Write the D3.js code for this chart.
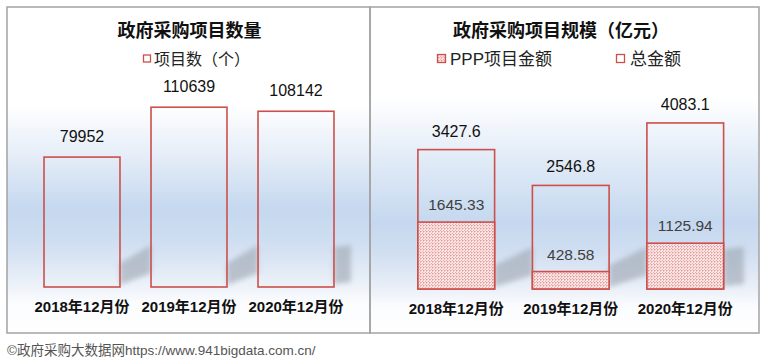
<!DOCTYPE html>
<html><head><meta charset="utf-8">
<script src="https://cdn.jsdelivr.net/npm/d3@7"></script>
<style>
html,body{margin:0;padding:0;background:#fff;}
svg{display:block;font-family:"Liberation Sans",Arial,"Noto Sans CJK SC",sans-serif;}
</style></head>
<body>
<svg id="chart" width="768" height="358"></svg>
<script>
// ---- data ----
const categories = ["2018年12月份", "2019年12月份", "2020年12月份"];
const countValues = [79952, 110639, 108142];
const totalValues = [3427.6, 2546.8, 4083.1];
const pppValues = [1645.33, 428.58, 1125.94];
const countLabels = ["79952", "110639", "108142"];
const totalLabels = ["3427.6", "2546.8", "4083.1"];
const pppLabels = ["1645.33", "428.58", "1125.94"];
const leftTitle = "政府采购项目数量";
const rightTitle = "政府采购项目规模（亿元）";
const leftLegend = ["项目数（个）"];
const rightLegend = ["PPP项目金额", "总金额"];
const footer = "©政府采购大数据网https://www.941bigdata.com.cn/";

const svg = d3.select("#chart");
const RED = "#cc4f4c";
const defs = svg.append("defs");

function makeGrad(id, stops) {
  const g = defs.append("linearGradient").attr("id", id)
    .attr("gradientUnits", "userSpaceOnUse").attr("x1", 0).attr("x2", 0).attr("y1", 7).attr("y2", 333);
  stops.forEach(s => g.append("stop").attr("offset", s[0]).attr("stop-color", s[1]));
}
makeGrad("bgL", [[0, "#ffffff"], [0.3, "#ffffff"], [0.45, "#e6eef8"], [0.62, "#c5d8ef"], [0.72, "#cfdef1"], [0.82, "#e4ecf6"], [0.91, "#fbfcfe"], [1, "#ffffff"]]);
makeGrad("bgR", [[0, "#ffffff"], [0.28, "#ffffff"], [0.45, "#e4edf8"], [0.66, "#c5d8ef"], [0.75, "#d0def1"], [0.85, "#e6edf6"], [0.92, "#fbfcfe"], [1, "#ffffff"]]);

// fine dotted pattern
const pat = defs.append("pattern").attr("id", "dots").attr("patternUnits", "userSpaceOnUse")
  .attr("width", 3).attr("height", 3);
pat.append("rect").attr("width", 3).attr("height", 3).attr("fill", "#fbe6e6");
pat.append("rect").attr("x", 0).attr("y", 0).attr("width", 1).attr("height", 1).attr("fill", "#e39a9a");
pat.append("rect").attr("x", 1).attr("y", 0).attr("width", 1).attr("height", 1).attr("fill", "#efbcbc");
pat.append("rect").attr("x", 0).attr("y", 1).attr("width", 1).attr("height", 1).attr("fill", "#efbcbc");
pat.append("rect").attr("x", 2).attr("y", 2).attr("width", 1).attr("height", 1).attr("fill", "#e9adad");

const blur = defs.append("filter").attr("id", "blur").attr("x", "-50%").attr("y", "-50%").attr("width", "200%").attr("height", "200%");
blur.append("feGaussianBlur").attr("stdDeviation", 2.5);

svg.append("rect").attr("x", 7).attr("y", 7).attr("width", 363).attr("height", 326).attr("fill", "url(#bgL)");
svg.append("rect").attr("x", 370).attr("y", 7).attr("width", 389).attr("height", 326).attr("fill", "url(#bgR)");

// ---- left chart ----
const xL = d3.scaleBand().domain(categories).range([28.5, 349.5]).paddingInner(0.29).paddingOuter(0.145);
const yL = d3.scaleLinear().domain([0, 120000]).range([287, 92]);

function shadows(g, x, bottom, rightLimit) {
  categories.forEach((c, i) => {
    const x1 = x(c) + x.bandwidth();
    const nextLeft = i < categories.length - 1 ? x(categories[i + 1]) : rightLimit;
    const w = Math.max(0, nextLeft - x1);
    const last = i === categories.length - 1;
    const pts = last
      ? [[x1, bottom - 3], [x1, bottom - 40], [x1 + w, bottom - 42], [x1 + w, bottom - 5]]
      : [[x1, bottom - 2], [x1, bottom - 24], [x1 + w, bottom - 42], [x1 + w, bottom - 14]];
    g.append("polygon").attr("points", pts.map(p => p.join(",")).join(" "))
      .attr("fill", "#a1aab6").attr("opacity", 0.65).attr("filter", "url(#blur)");
  });
}
const gL = svg.append("g");
shadows(gL, xL, yL(0), 351);

gL.selectAll("rect.bar").data(countValues).join("rect")
  .attr("x", (d, i) => xL(categories[i]))
  .attr("y", d => yL(d))
  .attr("width", xL.bandwidth())
  .attr("height", d => yL(0) - yL(d))
  .attr("fill", "none").attr("stroke", RED).attr("stroke-width", 1.6);

gL.selectAll("text.val").data(countValues).join("text")
  .attr("x", (d, i) => xL(categories[i]) + xL.bandwidth() / 2)
  .attr("y", d => yL(d) - 15)
  .attr("text-anchor", "middle").attr("font-size", 16).attr("fill", "#111")
  .text((d, i) => countLabels[i]);

gL.selectAll("text.cat").data(categories).join("text")
  .attr("x", d => xL(d) + xL.bandwidth() / 2)
  .attr("y", yL(0) + 25)
  .attr("text-anchor", "middle").attr("font-size", 15).attr("font-weight", "bold").attr("fill", "#111")
  .text(d => d);

svg.append("text").attr("x", 189.5).attr("y", 37).attr("text-anchor", "middle")
  .attr("font-size", 18).attr("font-weight", "bold").attr("fill", "#111").text(leftTitle);
svg.append("rect").attr("x", 143.5).attr("y", 55).attr("width", 7).attr("height", 7)
  .attr("fill", "#fff").attr("stroke", RED).attr("stroke-width", 1.3);
svg.append("text").attr("x", 154).attr("y", 64.5).attr("font-size", 16).attr("fill", "#222").text(leftLegend[0]);

// ---- right chart ----
const xR = d3.scaleBand().domain(categories).range([399, 742.5]).paddingInner(0.33).paddingOuter(0.165);
const yR = d3.scaleLinear().domain([0, 4500]).range([289, 106]);
const gR = svg.append("g");
shadows(gR, xR, yR(0), 744);

gR.selectAll("rect.tot").data(totalValues).join("rect")
  .attr("x", (d, i) => xR(categories[i]))
  .attr("y", d => yR(d))
  .attr("width", xR.bandwidth())
  .attr("height", d => yR(0) - yR(d))
  .attr("fill", "none").attr("stroke", RED).attr("stroke-width", 1.6);

gR.selectAll("rect.ppp").data(pppValues).join("rect")
  .attr("x", (d, i) => xR(categories[i]))
  .attr("y", d => yR(d))
  .attr("width", xR.bandwidth())
  .attr("height", d => yR(0) - yR(d))
  .attr("fill", "url(#dots)").attr("stroke", RED).attr("stroke-width", 1.6);

gR.selectAll("text.tv").data(totalValues).join("text")
  .attr("x", (d, i) => xR(categories[i]) + xR.bandwidth() / 2)
  .attr("y", d => yR(d) - 13)
  .attr("text-anchor", "middle").attr("font-size", 16).attr("fill", "#111")
  .text((d, i) => totalLabels[i]);

gR.selectAll("text.pv").data(pppValues).join("text")
  .attr("x", (d, i) => xR(categories[i]) + xR.bandwidth() / 2)
  .attr("y", d => yR(d) - 12)
  .attr("text-anchor", "middle").attr("font-size", 15.5).attr("fill", "#404040")
  .text((d, i) => pppLabels[i]);

gR.selectAll("text.cat").data(categories).join("text")
  .attr("x", d => xR(d) + xR.bandwidth() / 2)
  .attr("y", yR(0) + 25)
  .attr("text-anchor", "middle").attr("font-size", 15).attr("font-weight", "bold").attr("fill", "#111")
  .text(d => d);

svg.append("text").attr("x", 561).attr("y", 37).attr("text-anchor", "middle")
  .attr("font-size", 18).attr("font-weight", "bold").attr("fill", "#111").text(rightTitle);
svg.append("rect").attr("x", 437.5).attr("y", 54.5).attr("width", 8).attr("height", 8)
  .attr("fill", "url(#dots)").attr("stroke", RED).attr("stroke-width", 1.3);
svg.append("text").attr("x", 450).attr("y", 64.5).attr("font-size", 17).attr("fill", "#222").text(rightLegend[0]);
svg.append("rect").attr("x", 616.5).attr("y", 54.5).attr("width", 8).attr("height", 8)
  .attr("fill", "#fff").attr("stroke", RED).attr("stroke-width", 1.3);
svg.append("text").attr("x", 630).attr("y", 64.5).attr("font-size", 17).attr("fill", "#222").text(rightLegend[1]);

svg.append("rect").attr("x", 7).attr("y", 7).attr("width", 363).attr("height", 326)
  .attr("fill", "none").attr("stroke", "#a3a3a3").attr("stroke-width", 1.5);
svg.append("rect").attr("x", 370).attr("y", 7).attr("width", 389).attr("height", 326)
  .attr("fill", "none").attr("stroke", "#a3a3a3").attr("stroke-width", 1.5);

svg.append("text").attr("x", 7).attr("y", 355).attr("font-size", 13.5).attr("fill", "#555").text(footer);
</script>
</body></html>
